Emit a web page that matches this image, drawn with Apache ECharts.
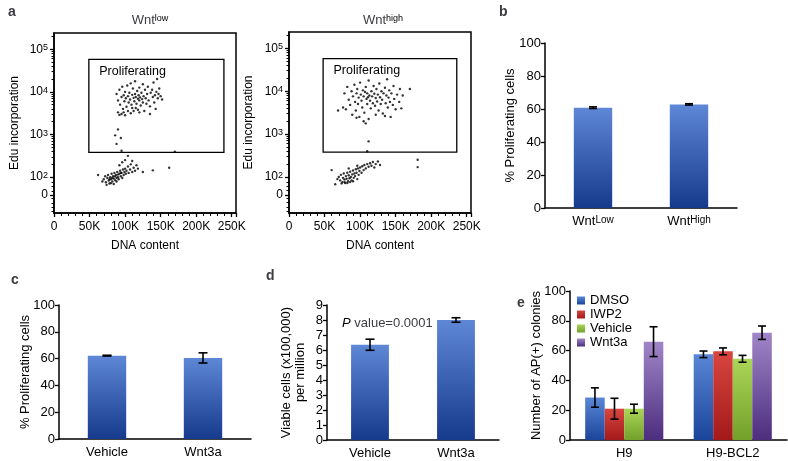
<!DOCTYPE html>
<html><head><meta charset="utf-8">
<script src="https://cdn.jsdelivr.net/npm/echarts@6/dist/echarts.min.js"></script>
<style>html,body{margin:0;padding:0;background:#fff}#c{width:788px;height:461px}</style>
</head><body><div id="c"></div>
<script>
// ---------- data ----------
const facsXMax = 256;                       // K, DNA content
const facsYTickPos = [1.58, 2, 3, 4, 5];    // display position (decades, biexponential)
const facsYTickText = ['0', '10{s|2}', '10{s|3}', '10{s|4}', '10{s|5}'];
const facsYMin = 1.16, facsYMax = 5.38;

// [DNA content (K), Edu (decade position)]
const wntLowPoints = [
 [88,3.95],[90,3.80],[92,4.05],[93,3.70],[95,3.88],[96,4.12],[97,3.60],[98,3.92],[99,3.78],[100,4.00],
 [101,3.85],[102,3.65],[103,4.15],[104,3.90],[105,3.75],[106,3.98],[107,3.82],[108,4.20],[109,3.70],[110,3.93],
 [110,3.62],[111,4.08],[112,3.86],[113,3.78],[114,4.25],[114,3.95],[115,3.88],[116,3.72],[117,4.02],[118,3.84],
 [118,3.58],[119,3.92],[120,4.10],[120,3.80],[121,3.87],[122,3.68],[123,3.98],[124,3.83],[125,4.18],[125,3.75],
 [126,3.90],[127,3.55],[128,4.05],[129,3.85],[130,3.72],[131,3.95],[132,4.12],[133,3.80],[135,3.66],[136,3.98],
 [138,4.05],[139,3.88],[140,4.22],[141,3.75],[142,3.92],[143,3.60],[144,4.00],[145,4.30],[146,3.85],[147,3.95],
 [148,4.08],[150,3.90],[152,3.82],[95,3.48],[98,3.52],[100,3.45],[104,3.55],[108,3.50],[112,3.55],[120,3.52],
 [135,3.48],[115,3.62],[90,3.52],[92,3.46],
 [86,2.98],[90,3.12],[94,2.92],[88,2.78],[95,2.62],
 [70,1.95],[72,2.02],[73,1.88],[75,1.98],[76,2.05],[77,1.92],[78,1.85],[79,2.00],[80,1.95],[81,2.08],
 [82,1.90],[83,2.02],[84,1.97],[85,2.10],[86,1.93],[87,2.05],[88,1.98],[89,2.12],[90,2.00],[91,1.95],
 [92,2.08],[93,2.15],[94,2.02],[95,2.10],[96,1.98],[97,2.18],[98,2.05],[99,2.12],[100,2.20],[101,2.08],
 [102,2.15],[104,2.25],[105,2.10],[107,2.18],[108,2.30],[110,2.12],[112,2.22],[114,2.15],[116,2.28],[118,2.20],
 [96,2.35],[100,2.40],[104,2.50],[110,2.38],[92,2.28],[68,1.90],[74,1.82],[80,1.86],[84,1.84],[88,1.90],
 [62,2.05],[125,2.12],[139,2.16],[162,2.22],[170,2.60],[78,1.95],[82,1.98],[86,2.02],[90,2.06],[94,2.10]
];
const wntHighPoints = [
 [69,3.55],[76,3.62],[78,3.95],[80,3.58],[82,4.10],[84,3.80],[86,3.68],[88,4.00],[89,3.45],[90,3.88],
 [92,4.15],[93,3.75],[94,3.55],[95,3.95],[96,4.05],[97,3.70],[98,3.85],[99,3.40],[100,4.20],[101,3.92],
 [102,3.78],[103,3.62],[104,4.02],[105,3.88],[106,3.50],[107,3.98],[108,4.10],[109,3.82],[110,3.70],[110,3.95],
 [111,3.86],[112,4.25],[113,3.90],[114,3.78],[115,3.60],[116,4.00],[117,3.88],[118,3.72],[119,4.12],[120,3.94],
 [121,3.66],[122,3.84],[123,4.05],[124,3.76],[125,3.92],[126,3.55],[127,4.18],[128,3.86],[129,3.70],[130,4.00],
 [131,3.80],[132,3.48],[133,3.95],[135,4.08],[136,3.72],[137,3.90],[138,4.28],[139,3.62],[140,3.85],[141,4.02],
 [142,3.75],[143,3.40],[144,3.95],[146,3.68],[147,4.12],[148,3.82],[150,3.58],[152,3.92],[155,3.75],[156,4.05],
 [158,3.60],[160,3.90],[170,4.05],[105,3.30],[112,3.35],[122,3.45],[135,3.42],[108,3.25],[95,3.38],
 [112,2.83],[110,2.60],
 [60,2.16],[65,1.83],[68,1.95],[70,2.00],[72,1.92],[73,2.05],[75,1.88],[76,1.98],[77,2.08],[78,1.94],
 [79,1.86],[80,2.02],[81,1.96],[82,2.10],[83,1.90],[84,2.04],[85,1.97],[86,2.12],[87,2.00],[88,1.92],
 [89,2.06],[90,2.15],[91,1.98],[92,2.08],[93,2.02],[94,2.18],[95,2.10],[96,1.95],[97,2.20],[98,2.05],
 [99,2.14],[100,2.22],[102,2.10],[103,2.25],[105,2.16],[106,2.28],[108,2.20],[110,2.30],[112,2.24],[114,2.32],
 [116,2.26],[118,2.35],[120,2.22],[122,2.30],[125,2.36],[128,2.28],[74,1.85],[78,1.88],[82,1.86],[86,1.88],
 [90,1.90],[181,2.40],[181,2.23],[84,2.20],[96,2.26]
];
const gateLow  = [[49, 4.76], [239, 2.58]];
const gateHigh = [[48, 4.76], [236, 2.58]];

const bCategories = ['Wnt{s|Low}', 'Wnt{s|High}'];
const bValues = [60.8, 62.8];
const bErrors = [0.5, 0.4];

const cCategories = ['Vehicle', 'Wnt3a'];
const cValues = [62.2, 60.5];
const cErrors = [0.3, 3.8];

const dCategories = ['Vehicle', 'Wnt3a'];
const dValues = [6.35, 8.0];
const dErrors = [0.37, 0.15];

const eCategories = ['H9', 'H9-BCL2'];
const eSeriesNames = ['DMSO', 'IWP2', 'Vehicle', 'Wnt3a'];
const eValues = [[28.5, 57.5], [21, 59.5], [21, 54.5], [66, 72]];
const eErrors = [[6.5, 2.2], [7, 2.3], [3, 2.3], [10, 4.5]];

// ---------- styling ----------
const FONT = 'Liberation Sans, Arial, Helvetica, sans-serif';
const grad = (t, b) => new echarts.graphic.LinearGradient(0, 0, 0, 1, [{offset: 0, color: t}, {offset: 1, color: b}]);
const blue = grad('#5e87d6', '#163a8c');
const eColors = [grad('#5a86d8', '#1b4598'), grad('#d8463f', '#a3191a'), grad('#abd558', '#73a02a'), grad('#a086c8', '#4c2d7e')];
const axisLine = {lineStyle: {color: '#000', width: 1.5}};
const supRich = {s: {fontSize: 9, verticalAlign: 'top', lineHeight: 9, fontFamily: FONT, color: '#000'}};
const minorLog = [];
[2, 3, 4].forEach(d => { for (let k = 2; k <= 9; k++) minorLog.push(d + Math.log10(k)); });
minorLog.push(5 + Math.log10(2));
minorLog.push(1.2, 1.3, 1.4, 1.5, 1.68, 1.78, 1.88);

function facsX(grid) {
  return {type: 'value', gridIndex: grid, min: 0, max: facsXMax, interval: 50,
    axisLine: axisLine, splitLine: {show: false},
    axisTick: {length: 4, lineStyle: {width: 1.3, color: '#000'}},
    minorTick: {show: true, splitNumber: 5, length: 3, lineStyle: {color: '#000', width: 1}},
    axisLabel: {color: '#000', fontSize: 12, margin: 8, formatter: v => v === 0 ? '0' : v + 'K'},
    name: 'DNA content', nameLocation: 'middle', nameGap: 27, nameMoveOverlap: false,
    nameTextStyle: {color: '#000', fontSize: 12}};
}
function facsY(grid, gap) {
  return {type: 'value', gridIndex: grid, min: facsYMin, max: facsYMax, position: 'left',
    axisLine: axisLine, splitLine: {show: false},
    axisTick: {customValues: facsYTickPos, length: 4, lineStyle: {width: 1.3, color: '#000'}},
    axisLabel: {customValues: facsYTickPos, color: '#000', fontSize: 12, margin: 6, rich: supRich,
      formatter: v => { const i = facsYTickPos.findIndex(p => Math.abs(p - v) < 1e-6); return i >= 0 ? facsYTickText[i] : ''; }},
    name: 'Edu incorporation', nameLocation: 'middle', nameGap: gap, nameMoveOverlap: false,
    nameTextStyle: {color: '#000', fontSize: 12}};
}
function facsYMinor(grid) {
  return {type: 'value', gridIndex: grid, min: facsYMin, max: facsYMax, position: 'left',
    axisLine: {show: false}, splitLine: {show: false}, axisLabel: {show: false},
    axisTick: {customValues: minorLog, length: 2.5, lineStyle: {width: 1, color: '#000'}}};
}
function catX(grid, cats, rich) {
  return {type: 'category', gridIndex: grid, data: cats, axisLine: axisLine,
    axisTick: {length: 4, lineStyle: {width: 1.3, color: '#000'}},
    axisLabel: {color: '#000', fontSize: 13, margin: 7, rich: rich ? {s: {fontSize: 10, verticalAlign: 'top', lineHeight: 9, color: '#000', fontFamily: FONT}} : undefined}};
}
function valY(grid, max, interval, name, gap, nameSize) {
  return {type: 'value', gridIndex: grid, min: 0, max: max, interval: interval,
    axisLine: {show: true, lineStyle: {color: '#000', width: 1.5}}, splitLine: {show: false},
    axisTick: {show: true, length: 4, lineStyle: {width: 1.3, color: '#000'}},
    axisLabel: {color: '#000', fontSize: 13, margin: 4},
    name: name, nameLocation: 'middle', nameGap: gap, nameMoveOverlap: false,
    nameTextStyle: {color: '#000', fontSize: nameSize || 13, lineHeight: 14}};
}
function errSeries(xi, yi, vals, errs, cap, offsetFn) {
  return {type: 'custom', xAxisIndex: xi, yAxisIndex: yi, z: 10, silent: true,
    data: vals.map((v, i) => [i, v, errs[i]]),
    renderItem: (params, api) => {
      const i = api.value(0), v = api.value(1), e = api.value(2);
      const hi = api.coord([i, v + e]), lo = api.coord([i, v - e]);
      const x = hi[0] + (offsetFn ? offsetFn(api) : 0);
      const st = {stroke: '#000', lineWidth: 1.6};
      return {type: 'group', children: [
        {type: 'line', shape: {x1: x, y1: hi[1], x2: x, y2: lo[1]}, style: st},
        {type: 'line', shape: {x1: x - cap / 2, y1: hi[1], x2: x + cap / 2, y2: hi[1]}, style: st},
        {type: 'line', shape: {x1: x - cap / 2, y1: lo[1], x2: x + cap / 2, y2: lo[1]}, style: st}]};
    }};
}
function gateArea(g) {
  return {silent: true, itemStyle: {color: 'rgba(0,0,0,0)', borderColor: '#000', borderWidth: 1.3},
    label: {show: true, position: 'insideTopLeft', distance: 6, offset: [5, 0], color: '#000', fontSize: 12.5, fontFamily: FONT},
    data: [[{name: 'Proliferating', coord: g[0]}, {coord: g[1]}]]};
}

const E_GAP = 0.28;
const titleRich = {s: {fontSize: 9, verticalAlign: 'top', lineHeight: 9, fontFamily: FONT}};
const option = {
  animation: false,
  textStyle: {fontFamily: FONT, color: '#000'},
  title: [
    {text: 'a', left: 3, top: 0, textStyle: {fontSize: 14, fontWeight: 'bold', fontFamily: FONT}},
    {text: 'b', left: 494, top: 0, textStyle: {fontSize: 14, fontWeight: 'bold', fontFamily: FONT}},
    {text: 'c', left: 6, top: 268, textStyle: {fontSize: 14, fontWeight: 'bold', fontFamily: FONT}},
    {text: 'd', left: 261, top: 264, textStyle: {fontSize: 14, fontWeight: 'bold', fontFamily: FONT}},
    {text: 'e', left: 512, top: 291, textStyle: {fontSize: 14, fontWeight: 'bold', fontFamily: FONT}},
    {text: 'Wnt{s|low}', left: 145, top: 9, textAlign: 'center', textStyle: {fontSize: 13, fontWeight: 'normal', fontFamily: FONT, rich: titleRich}},
    {text: 'Wnt{s|high}', left: 378, top: 9, textAlign: 'center', textStyle: {fontSize: 13, fontWeight: 'normal', fontFamily: FONT, rich: titleRich}},
    {text: '{i|P} value=0.0001', left: 337, top: 312, textStyle: {fontSize: 13, fontWeight: 'normal', fontFamily: FONT, rich: {i: {fontStyle: 'italic', fontSize: 13, fontFamily: FONT}}}}
  ],
  legend: {data: eSeriesNames, orient: 'vertical', left: 577, top: 294, itemWidth: 8, itemHeight: 8, itemGap: 1,
    icon: 'rect', textStyle: {fontSize: 13, color: '#000', fontFamily: FONT}, padding: 0},
  grid: [
    {left: 54, top: 33, width: 182, height: 180, show: true, borderColor: '#000', borderWidth: 1.5, backgroundColor: 'transparent'},
    {left: 289, top: 32, width: 182, height: 181, show: true, borderColor: '#000', borderWidth: 1.5, backgroundColor: 'transparent'},
    {left: 545, top: 43, width: 192, height: 165},
    {left: 59, top: 305, width: 192, height: 134},
    {left: 327, top: 305, width: 172, height: 135},
    {left: 570, top: 291, width: 217, height: 149}
  ],
  xAxis: [
    facsX(0), facsX(1),
    catX(2, bCategories, true), catX(3, cCategories), catX(4, dCategories), catX(5, eCategories)
  ],
  yAxis: [
    facsY(0, 33), facsYMinor(0), facsY(1, 34), facsYMinor(1),
    valY(2, 100, 20, '% Proliferating cells', 28),
    valY(3, 100, 20, '% Proliferating cells', 27),
    valY(4, 9, 1, 'Viable cells (x100,000)\nper million', 20),
    valY(5, 100, 20, 'Number of AP(+) colonies', 27, 13)
  ],
  series: [
    {type: 'scatter', xAxisIndex: 0, yAxisIndex: 0, data: wntLowPoints, symbolSize: 2.4, itemStyle: {color: '#000'}, markArea: gateArea(gateLow)},
    {type: 'scatter', xAxisIndex: 1, yAxisIndex: 2, data: wntHighPoints, symbolSize: 2.4, itemStyle: {color: '#000'}, markArea: gateArea(gateHigh)},
    {type: 'bar', xAxisIndex: 2, yAxisIndex: 4, data: bValues, barWidth: '40%', itemStyle: {color: blue}},
    errSeries(2, 4, bValues, bErrors, 8),
    {type: 'bar', xAxisIndex: 3, yAxisIndex: 5, data: cValues, barWidth: '40%', itemStyle: {color: blue}},
    errSeries(3, 5, cValues, cErrors, 9),
    {type: 'bar', xAxisIndex: 4, yAxisIndex: 6, data: dValues, barWidth: '44%', itemStyle: {color: blue}},
    errSeries(4, 6, dValues, dErrors, 9),
    ...eSeriesNames.map((n, k) => ({type: 'bar', name: n, xAxisIndex: 5, yAxisIndex: 7, data: eValues[k],
      barGap: '0%', barCategoryGap: (E_GAP * 100) + '%', itemStyle: {color: eColors[k]}})),
    ...eSeriesNames.map((n, k) => errSeries(5, 7, eValues[k], eErrors[k], 8,
      api => (k - 1.5) * api.size([1, 0])[0] * (1 - E_GAP) / 4))
  ]
};
const chart = echarts.init(document.getElementById('c'), null, {renderer: 'canvas'});
chart.setOption(option);
</script>
</body></html>
